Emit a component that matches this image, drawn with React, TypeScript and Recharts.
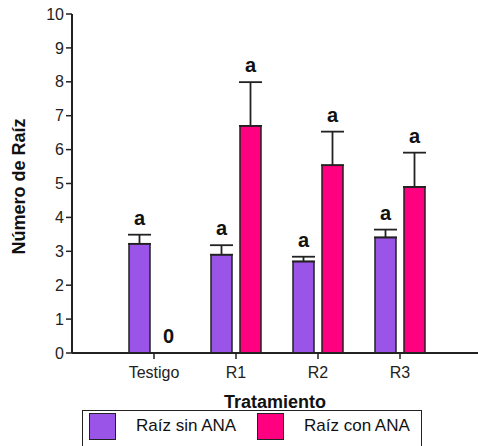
import React from "react";
import { Bar, BarChart, ErrorBar, Label, LabelList, Legend, XAxis, YAxis } from "recharts";

const categories = ["Testigo", "R1", "R2", "R3"];
const sinAna = [3.22, 2.9, 2.7, 3.41];
const sinAnaErr = [0.27, 0.28, 0.14, 0.23];
const sinAnaLetters = ["a", "a", "a", "a"];
const conAna = [0, 6.7, 5.54, 4.9];
const conAnaErr = [0, 1.29, 0.99, 1.01];
const conAnaLetters = ["0", "a", "a", "a"];
const yTicks = [0, 1, 2, 3, 4, 5, 6, 7, 8, 9, 10];
const seriesOrder = ["Raíz sin ANA", "Raíz con ANA"];

const FONT = "'Liberation Sans', Arial, sans-serif";
const PURPLE = "#9a55e8";
const PINK = "#ff0080";
const INK = "#222";
const BAR_SIZE = 21;
const BAR_GAP = 8;

const data = categories.map((name, i) => ({
  name,
  sin: sinAna[i],
  sinErr: [0, sinAnaErr[i]],
  con: conAna[i],
  conErr: [0, conAnaErr[i]],
}));

function Letter({ x, y, text }: { x: number; y: number; text: string }) {
  return (
    <text x={x} y={y} textAnchor="middle" fontFamily={FONT} fontWeight="bold" fontSize={20} fill="#111">
      {text}
    </text>
  );
}

// purple bars: own letter, plus the pink letter when the pink bar has zero height (recharts skips its label)
function SinLabel(props: any) {
  const { x, y, width, height, value } = props;
  const i = categories.indexOf(value);
  const perUnit = height / sinAna[i];
  const base = y + height;
  const pinkX = x + width + BAR_GAP + width / 2;
  return (
    <g>
      <Letter x={x + width / 2} y={y - sinAnaErr[i] * perUnit - 10} text={sinAnaLetters[i]} />
      {conAna[i] === 0 && <Letter x={pinkX} y={base - 10} text={conAnaLetters[i]} />}
    </g>
  );
}

function ConLabel(props: any) {
  const { x, y, width, height, value } = props;
  const i = categories.indexOf(value);
  if (conAna[i] === 0) return null;
  const perUnit = height / conAna[i];
  return <Letter x={x + width / 2} y={y - conAnaErr[i] * perUnit - 10} text={conAnaLetters[i]} />;
}

function LegendBox({ payload }: { payload?: Array<{ value: string; color?: string }> }) {
  const items = [...(payload ?? [])].sort((a, b) => seriesOrder.indexOf(a.value) - seriesOrder.indexOf(b.value));
  return (
    <div
      style={{
        boxSizing: "border-box",
        width: 340,
        height: 44,
        border: `1.5px solid ${INK}`,
        display: "flex",
        alignItems: "flex-start",
        gap: 20,
        paddingLeft: 6,
        paddingTop: 2,
        fontFamily: FONT,
        fontSize: 17,
        color: "#111",
        background: "#fff",
      }}
    >
      {items.map((item) => (
        <React.Fragment key={item.value}>
          <span
            style={{
              boxSizing: "border-box",
              flex: "none",
              width: 27,
              height: 27,
              background: item.color,
              border: `1.5px solid ${INK}`,
            }}
          />
          <span style={{ lineHeight: "25px", flex: "none", width: item.value === "Raíz sin ANA" ? 101 : 110 }}>
            {item.value}
          </span>
        </React.Fragment>
      ))}
    </div>
  );
}

export default function App() {
  return (
    <div style={{ position: "absolute", left: 0, top: 0, width: 478, height: 446, overflow: "hidden", background: "#fff" }}>
      <BarChart
        width={478}
        height={446}
        data={data}
        margin={{ top: 14, right: 0, bottom: 63, left: 22 }}
        barSize={BAR_SIZE}
        barGap={BAR_GAP}
      >
        <XAxis
          dataKey="name"
          padding={{ left: 41, right: 37 }}
          height={30}
          tickSize={6}
          tickMargin={8}
          axisLine={{ stroke: INK, strokeWidth: 2 }}
          tickLine={{ stroke: INK, strokeWidth: 1.5 }}
          tick={{ fill: "#222", fontSize: 16, fontFamily: FONT }}
        >
          <Label
            value="Tratamiento"
            position="bottom"
            offset={12}
            style={{ fontFamily: FONT, fontWeight: "bold", fontSize: 18, fill: "#111" }}
          />
        </XAxis>
        <YAxis
          domain={[0, 10]}
          ticks={yTicks}
          interval={0}
          width={50}
          tickSize={6}
          tickMargin={2}
          axisLine={{ stroke: INK, strokeWidth: 2 }}
          tickLine={{ stroke: INK, strokeWidth: 1.5 }}
          tick={{ fill: "#222", fontSize: 16, fontFamily: FONT }}
        >
          <Label
            content={({ viewBox }: any) => {
              const cx = viewBox.x - 3;
              const cy = viewBox.y + viewBox.height / 2 + 3;
              return (
                <text
                  x={cx}
                  y={cy}
                  transform={`rotate(-90 ${cx} ${cy})`}
                  textAnchor="middle"
                  dominantBaseline="central"
                  fontFamily={FONT}
                  fontWeight="bold"
                  fontSize={18}
                  fill="#111"
                >
                  Número de Raíz
                </text>
              );
            }}
          />
        </YAxis>
        <Legend
          layout="horizontal"
          verticalAlign="middle"
          align="center"
          wrapperStyle={{ top: 410, left: 82, width: 340 }}
          content={(props: any) => <LegendBox payload={props.payload} />}
        />
        <Bar dataKey="sin" name="Raíz sin ANA" fill={PURPLE} stroke={INK} strokeWidth={1.5} isAnimationActive={false}>
          <ErrorBar dataKey="sinErr" width={11.5} stroke={INK} strokeWidth={1.8} direction="y" isAnimationActive={false} />
          <LabelList dataKey="name" content={SinLabel} />
        </Bar>
        <Bar dataKey="con" name="Raíz con ANA" fill={PINK} stroke={INK} strokeWidth={1.5} isAnimationActive={false}>
          <ErrorBar dataKey="conErr" width={11.5} stroke={INK} strokeWidth={1.8} direction="y" isAnimationActive={false} />
          <LabelList dataKey="name" content={ConLabel} />
        </Bar>
      </BarChart>
    </div>
  );
}
